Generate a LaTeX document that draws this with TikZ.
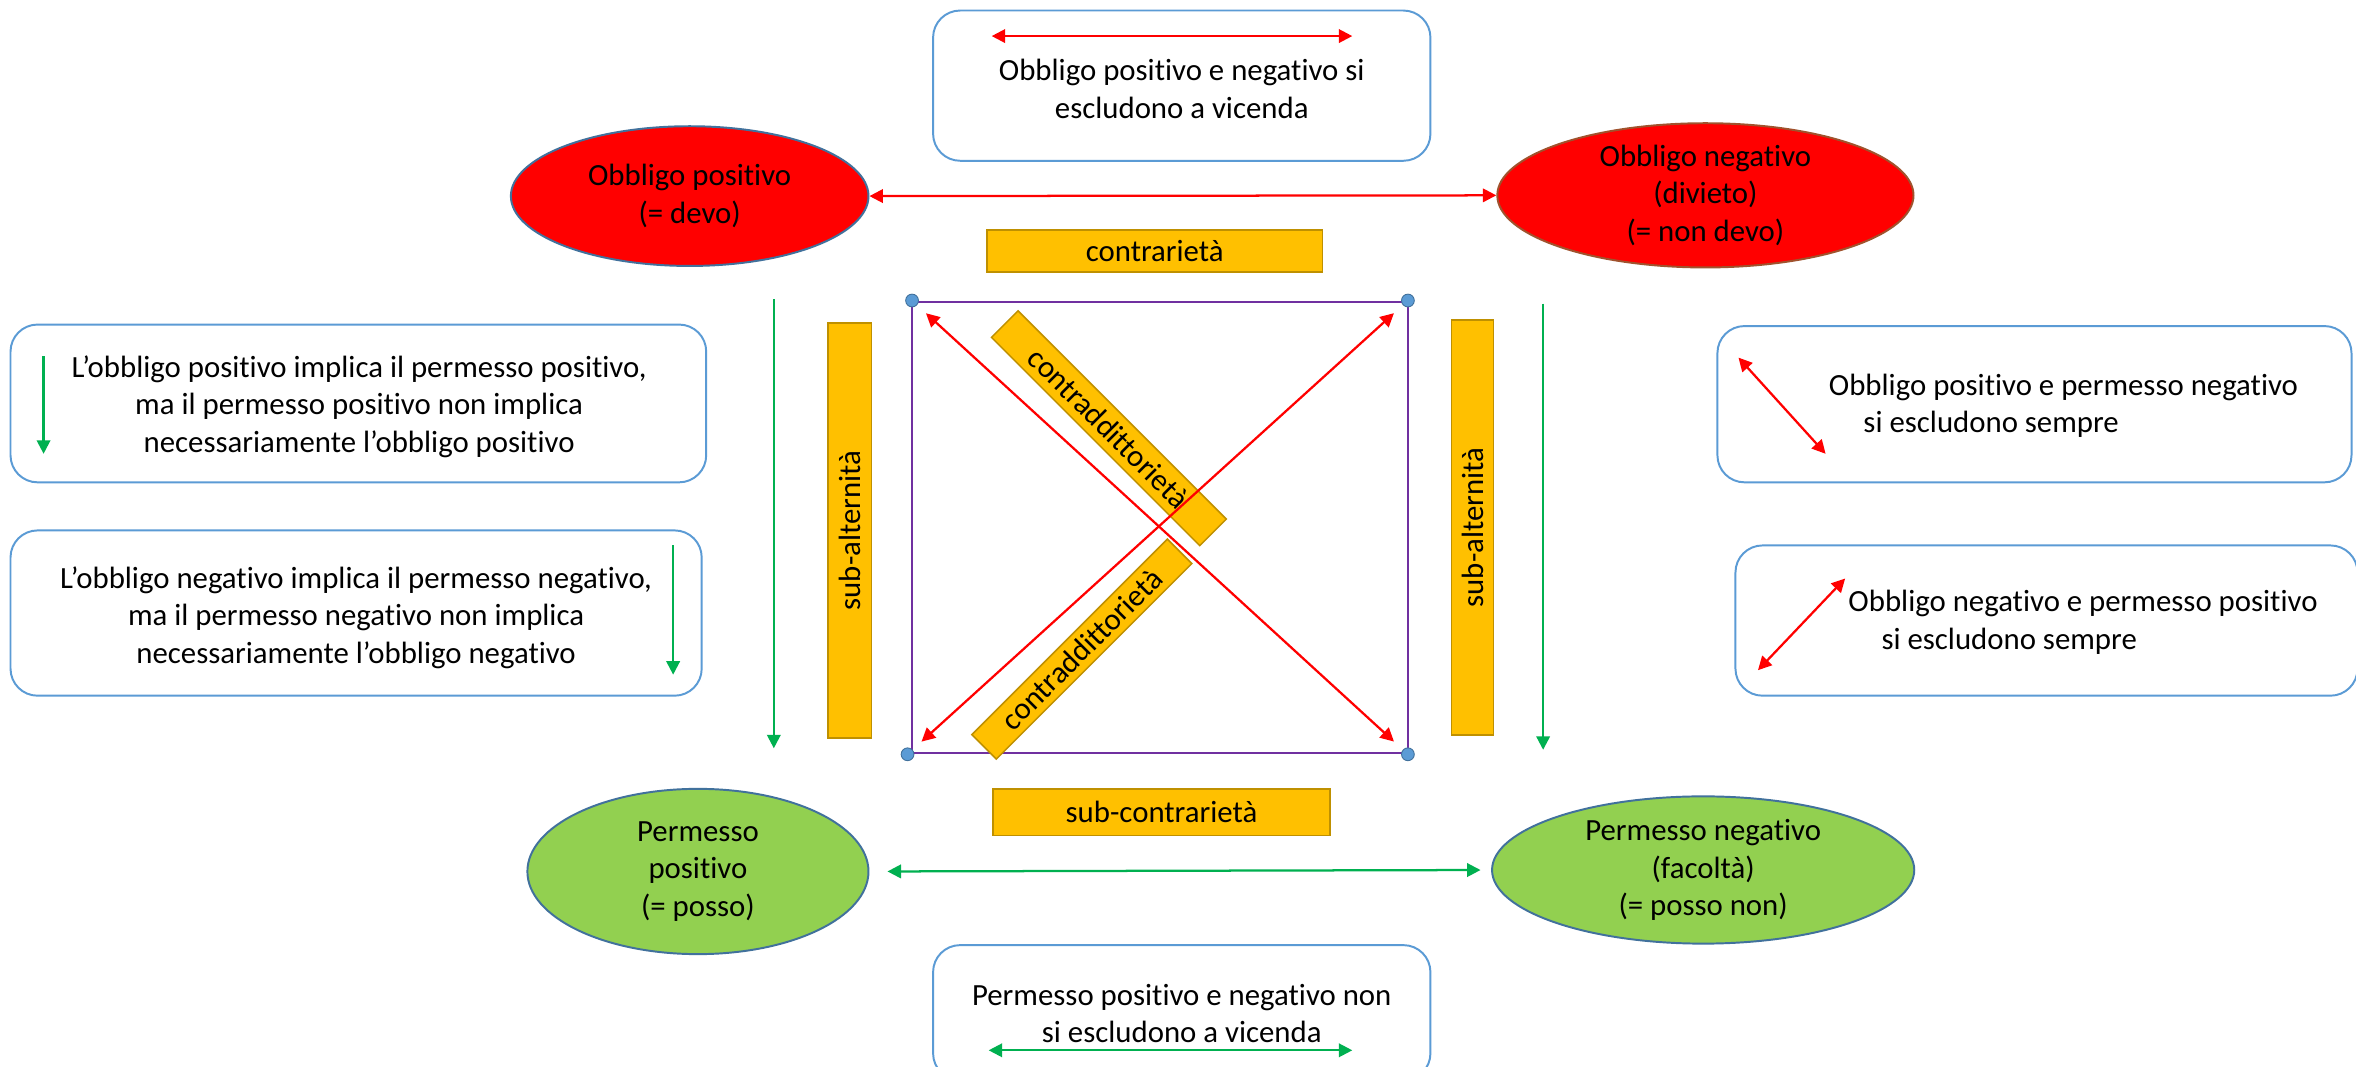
\documentclass[tikz,border=0pt]{standalone}
\usepackage{fontspec}
\setmainfont{Carlito}[Ligatures=NoCommon]
\usetikzlibrary{arrows.meta,shapes.geometric}
\definecolor{boxblue}{HTML}{5B9BD5}
\definecolor{ogold}{HTML}{BF9000}
\definecolor{orangef}{HTML}{FFC000}
\definecolor{grn}{HTML}{00B050}
\definecolor{lgreen}{HTML}{92D050}
\definecolor{ellblue}{HTML}{41719C}
\definecolor{ellbrown}{HTML}{A0522D}
\definecolor{purp}{HTML}{7030A0}
\definecolor{dotblue}{HTML}{5B9BD5}
\tikzset{
  rbox/.style={draw=boxblue, line width=1.3pt, rounded corners=18pt, inner sep=0pt},
  obox/.style={draw=ogold, fill=orangef, line width=1pt, inner sep=0pt},
  redarr/.style={draw=red, line width=1.5pt, {Triangle[length=9pt,width=9pt]}-{Triangle[length=9pt,width=9pt]}},
  grnarr/.style={draw=grn, line width=1.5pt, {Triangle[length=9pt,width=9pt]}-{Triangle[length=9pt,width=9pt]}},
  grndown/.style={draw=grn, line width=1.5pt, -{Triangle[length=9pt,width=9pt]}},
  ell/.style={ellipse, inner sep=0pt, line width=1.3pt, align=center},
  txt/.style={align=center, inner sep=0pt},
  cdot/.style={circle, fill=dotblue, draw=ellblue, line width=0.6pt, inner sep=0pt, minimum size=8.5pt}
}
\begin{document}
\begin{tikzpicture}[x=1pt,y=-1pt, font=\fontsize{20.5}{25}\selectfont]
\useasboundingbox (0,0) rectangle (1568,710);
\fill[white] (0,0) rectangle (1568,710);

% rounded text boxes
\node[rbox, minimum width=331, minimum height=100] (topbox) at (786.5,57) {};
\node[txt] (toptext) at (786.5,59) {Obbligo positivo e negativo si\\escludono a vicenda};
\coordinate (ta1) at (660,24); \coordinate (ta2) at (900,24);
\draw[redarr] (ta1) -- (ta2);

\node[rbox, minimum width=331, minimum height=90] (botbox) at (786.5,674) {};
\node[txt] (bottext) at (786.5,674.5) {Permesso positivo e negativo non\\si escludono a vicenda};
\coordinate (ba1) at (658,699); \coordinate (ba2) at (900,699);
\draw[grnarr] (ba1) -- (ba2);

\node[rbox, minimum width=463, minimum height=105] (lbox1) at (238.5,268.5) {};
\node[txt] (ltext1) at (239,270.5) {L’obbligo positivo implica il permesso positivo,\\ma il permesso positivo non implica\\necessariamente l’obbligo positivo};
\coordinate (la1) at (29,237); \coordinate (la2) at (29,302);
\draw[grndown] (la1) -- (la2);

\node[rbox, minimum width=460, minimum height=110] (lbox2) at (237,408) {};
\node[txt] (ltext2) at (237,411) {L’obbligo negativo implica il permesso negativo,\\ma il permesso negativo non implica\\necessariamente l’obbligo negativo};
\coordinate (lb1) at (448,363); \coordinate (lb2) at (448,449);
\draw[grndown] (lb1) -- (lb2);

\node[rbox, minimum width=422, minimum height=104] (rbox1) at (1354,269) {};
\node[align=left, inner sep=0pt, anchor=west] (rtext1) at (1217,270) {Obbligo positivo e permesso negativo\\\hspace*{23pt}si escludono sempre};
\coordinate (ra1) at (1157,238); \coordinate (ra2) at (1215,302);
\draw[redarr] (ra1) -- (ra2);

\node[rbox, minimum width=414, minimum height=100] (rbox2) at (1362,413) {};
\node[align=left, inner sep=0pt, anchor=west] (rtext2) at (1230,414) {Obbligo negativo e permesso positivo\\\hspace*{22pt}si escludono sempre};
\coordinate (rb1) at (1228,385); \coordinate (rb2) at (1170,446);
\draw[redarr] (rb1) -- (rb2);

% ellipses
\node[ell, draw=ellblue, fill=red, minimum width=238, minimum height=93] (op) at (459,130.5) {Obbligo positivo\\(= devo)};
\node[ell, draw=ellbrown, fill=red, minimum width=277, minimum height=96] (on) at (1135,130) {Obbligo negativo\\(divieto)\\(= non devo)};
\node[ell, draw=ellblue, fill=lgreen, minimum width=227, minimum height=110] (pp) at (464.5,580) {Permesso\\positivo\\(= posso)};
\node[ell, draw=ellblue, fill=lgreen, minimum width=281, minimum height=98] (pn) at (1133.5,579) {Permesso negativo\\(facoltà)\\(= posso non)};

\draw[redarr] (op.east) -- (on.west);
\draw[grnarr, shorten <=12pt, shorten >=7pt] (pp.east) -- (pn.west);

% vertical green arrows
\coordinate (gl1) at (515,199); \coordinate (gl2) at (515,498);
\coordinate (gr1) at (1027,202); \coordinate (gr2) at (1027,499);
\draw[grndown] (gl1) -- (gl2);
\draw[grndown] (gr1) -- (gr2);

% orange labels
\node[obox, minimum width=223, minimum height=28] (contr) at (768.5,167) {contrarietà};
\node[obox, minimum width=224, minimum height=31] (subc) at (773,540.5) {sub-contrarietà};
\node[obox, minimum width=276, minimum height=29, rotate=90] (suba1) at (565.5,353) {sub-alternità};
\node[obox, minimum width=276, minimum height=28, rotate=90] (suba2) at (980,351) {sub-alternità};

% square
\coordinate (sq1) at (607,201); \coordinate (sq2) at (937,201);
\coordinate (sq3) at (937,501); \coordinate (sq4) at (607,501);
\draw[purp, line width=1.6pt] (sq1) -- (sq2) -- (sq3) -- (sq4) -- cycle;

\node[obox, minimum width=196, minimum height=25, rotate=-45] (cd1) at (738,285) {contraddittorietà};
\node[obox, minimum width=184, minimum height=23, rotate=45] (cd2) at (720,432) {contraddittorietà};

\node[cdot] (d1) at (607,200) {};
\node[cdot] (d2) at (937,200) {};
\node[cdot] (d3) at (937,502) {};
\node[cdot] (d4) at (604,502) {};

\draw[redarr, shorten <=8pt, shorten >=8pt] (d1) -- (d3);
\draw[redarr, shorten <=8pt, shorten >=8pt] (d4) -- (d2);
\end{tikzpicture}
\end{document}
